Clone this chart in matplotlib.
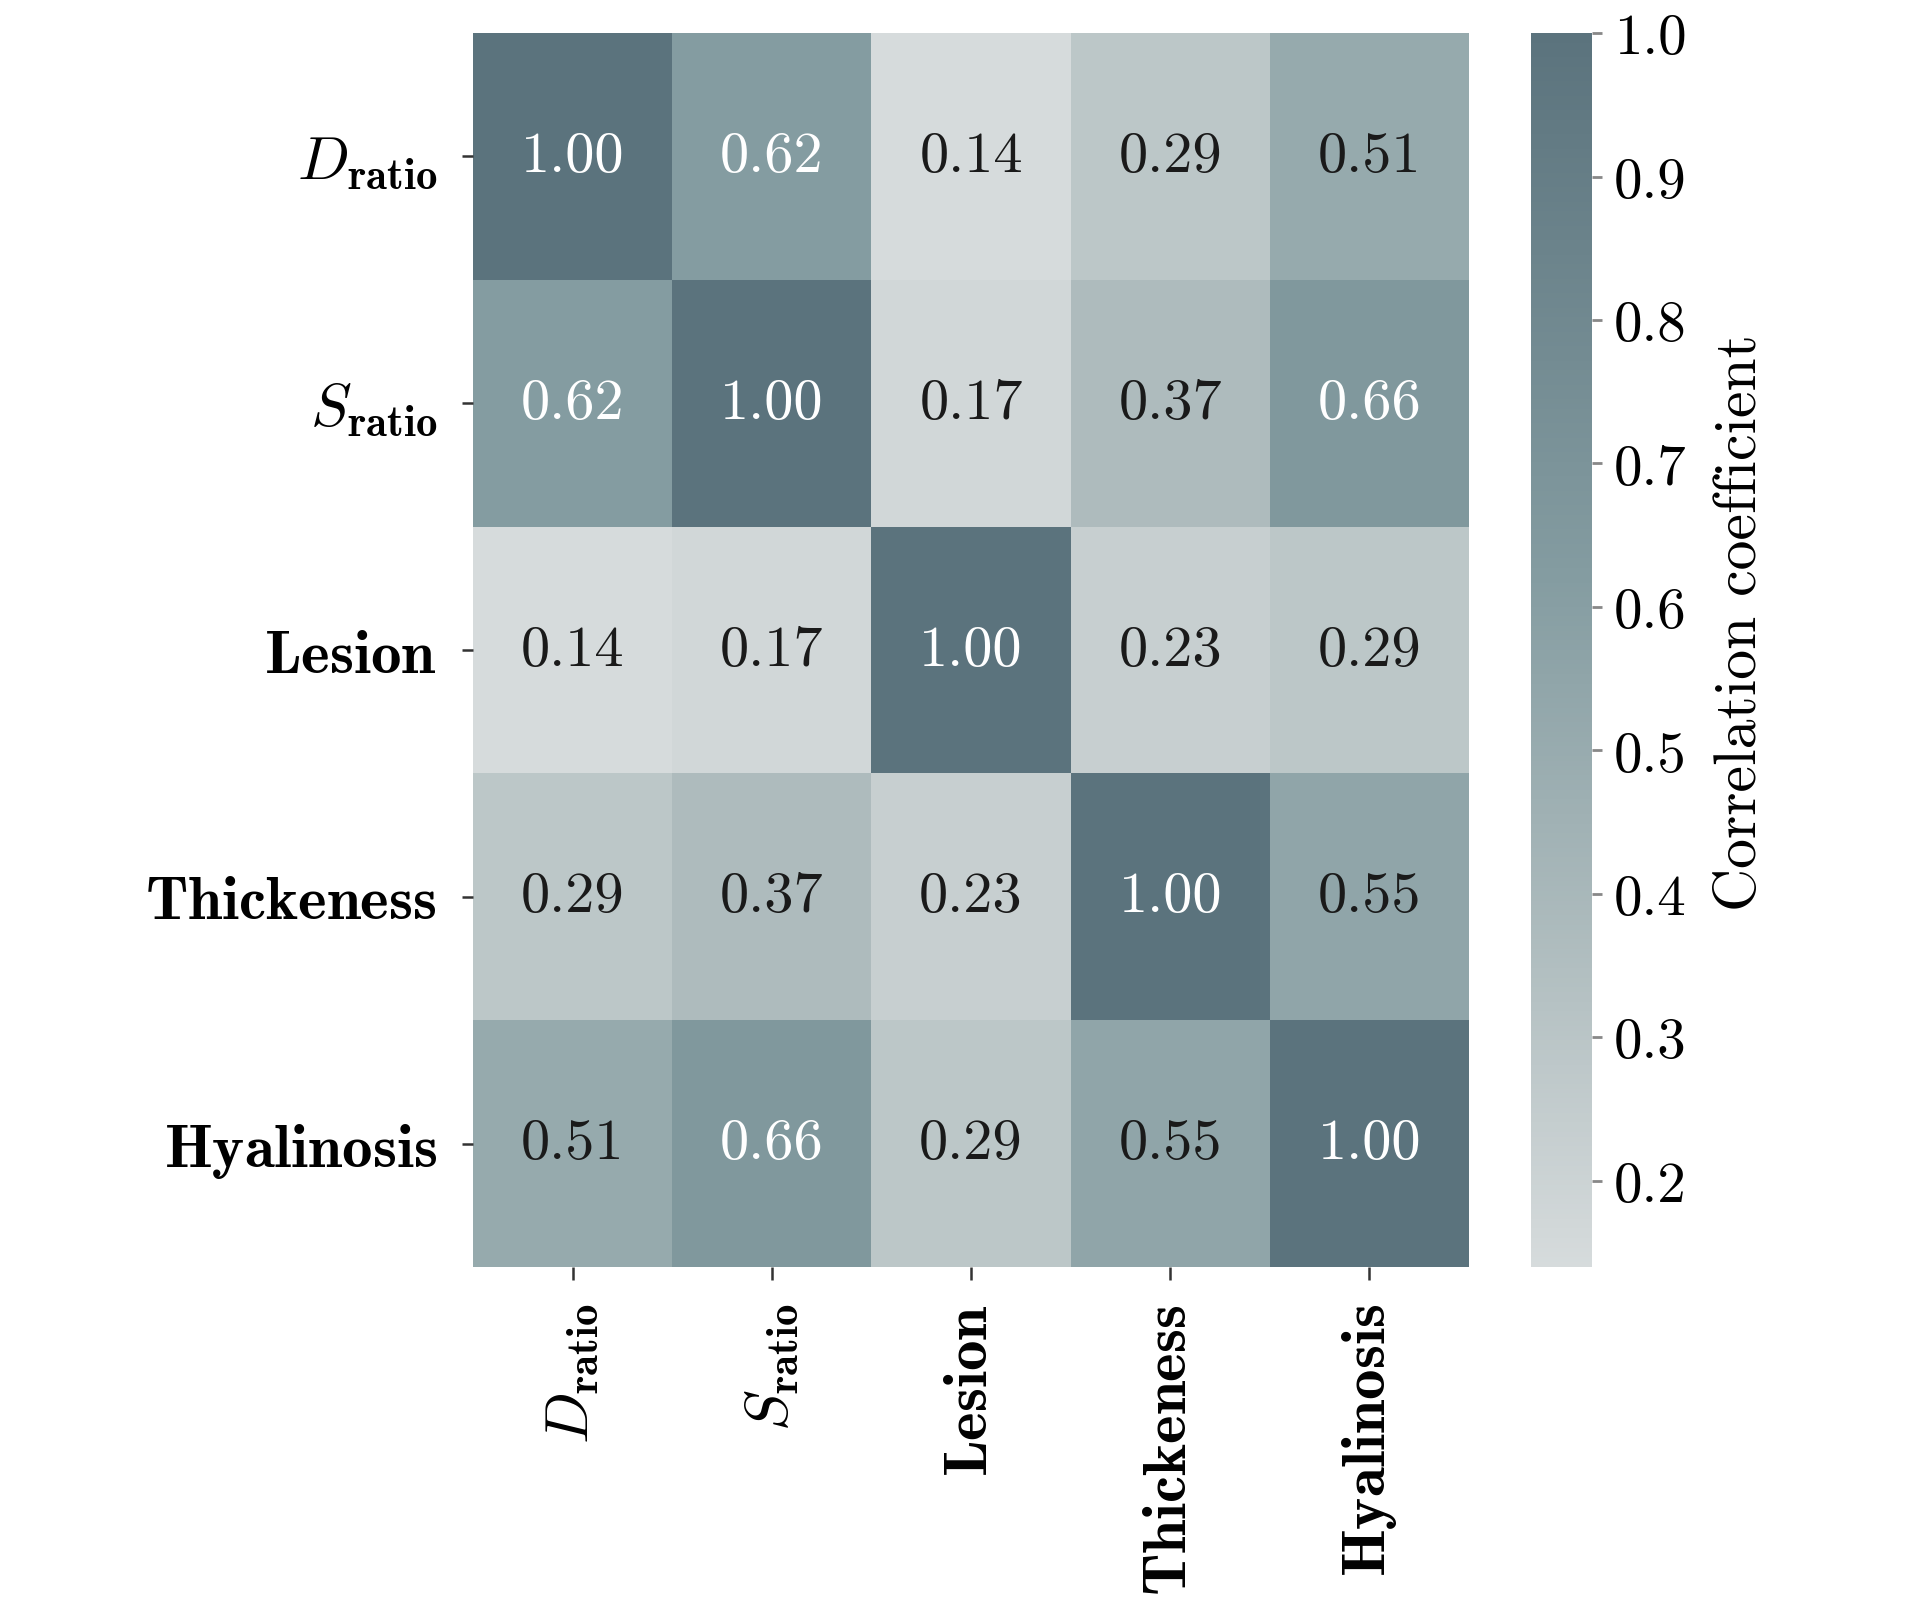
import numpy as np
import matplotlib
matplotlib.use("Agg")
import matplotlib.pyplot as plt
from matplotlib.colors import LinearSegmentedColormap
from matplotlib.ticker import FormatStrFormatter

labels = [r"$\mathit{D}_{\mathbf{ratio}}$", r"$\mathit{S}_{\mathbf{ratio}}$",
          r"$\mathbf{Lesion}$", r"$\mathbf{Thickeness}$", r"$\mathbf{Hyalinosis}$"]

corr = [[1.00, 0.62, 0.14, 0.29, 0.51],
        [0.62, 1.00, 0.17, 0.37, 0.66],
        [0.14, 0.17, 1.00, 0.23, 0.29],
        [0.29, 0.37, 0.23, 1.00, 0.55],
        [0.51, 0.66, 0.29, 0.55, 1.00]]

cbar_ticks = [0.2, 0.3, 0.4, 0.5, 0.6, 0.7, 0.8, 0.9, 1.0]

plt.rcParams["font.family"] = "cmr10"
plt.rcParams["mathtext.fontset"] = "cm"
plt.rcParams["axes.formatter.use_mathtext"] = True
plt.rcParams["axes.unicode_minus"] = False

cmap = LinearSegmentedColormap.from_list(
    "slate", [(0.0, "#d6dbdc"), (0.27, "#adbbbd"), (0.56, "#849ca1"), (1.0, "#5b737d")])


def main():
    z = np.array(corr)
    n = len(labels)

    fig = plt.figure(figsize=(19.13, 16.06), dpi=100)
    ax = fig.add_axes([0.2473, 0.2105, 0.5206, 0.7683])
    cax = fig.add_axes([0.8003, 0.2105, 0.0319, 0.7683])

    mesh = ax.pcolormesh(z, cmap=cmap, vmin=z.min(), vmax=z.max())
    ax.set_xlim(0, n)
    ax.set_ylim(n, 0)
    for s in ax.spines.values():
        s.set_visible(False)

    for i in range(n):
        for j in range(n):
            v = z[i, j]
            col = "white" if v > 0.6 else "#1a1a1a"
            ax.text(j + 0.5, i + 0.5, "%.2f" % v, ha="center", va="center",
                    fontsize=42, color=col)

    ax.set_xticks(np.arange(n) + 0.5)
    ax.set_yticks(np.arange(n) + 0.5)
    ax.set_xticklabels(labels, rotation=90, fontsize=44)
    ax.set_yticklabels(labels, fontsize=44)
    ax.tick_params(axis="y", length=8, width=1.8, pad=18, color="#333333")
    ax.tick_params(axis="x", length=9, width=1.8, pad=17, color="#333333")

    cbar = fig.colorbar(mesh, cax=cax)
    cbar.outline.set_visible(False)
    cbar.set_ticks(cbar_ticks)
    cbar.ax.yaxis.set_major_formatter(FormatStrFormatter("%.1f"))
    cbar.ax.tick_params(labelsize=41, length=7, width=2, pad=9, color="#888888")
    cbar.set_label("Correlation coefficient", fontsize=43)
    cbar.ax.yaxis.set_label_coords(3.0, 0.523)

    fig.savefig("out.png", dpi=100)
    plt.close()


if __name__ == "__main__":
    main()
